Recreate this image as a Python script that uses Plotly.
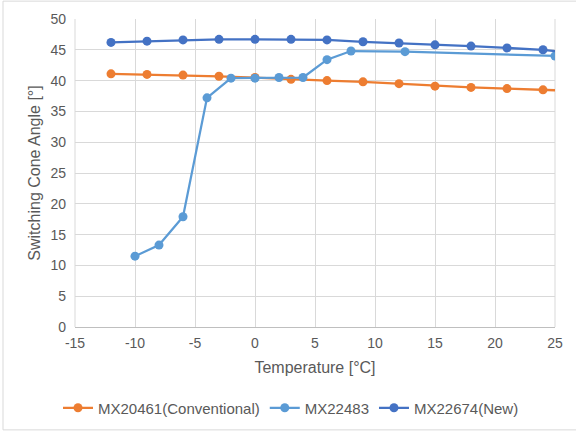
import plotly.graph_objects as go

# MX20461 (Conventional)
t_conv = [-12, -9, -6, -3, 0, 3, 6, 9, 12, 15, 18, 21, 24, 27]
a_conv = [41.1, 41.0, 40.9, 40.7, 40.5, 40.2, 40.0, 39.8, 39.5, 39.1, 38.9, 38.7, 38.5, 38.3]

# MX22483
t_483 = [-10, -8, -6, -4, -2, 0, 2, 4, 6, 8, 12.5, 25]
a_483 = [11.5, 13.3, 17.9, 37.2, 40.4, 40.4, 40.5, 40.5, 43.4, 44.8, 44.7, 44.0]

# MX22674 (New)
t_new = [-12, -9, -6, -3, 0, 3, 6, 9, 12, 15, 18, 21, 24, 27]
a_new = [46.2, 46.4, 46.6, 46.7, 46.7, 46.7, 46.6, 46.3, 46.1, 45.8, 45.6, 45.3, 45.0, 44.4]

x_ticks = [-15, -10, -5, 0, 5, 10, 15, 20, 25]
x_ticktext = ["-15", "-10", "-5", "0", "5", "10", "15", "20", "25"]

names = ["MX20461(Conventional)", "MX22483", "MX22674(New)"]
colors = ["#ED7D31", "#5B9BD5", "#4472C4"]

fig = go.Figure()
for x, y, n, c in zip([t_conv, t_483, t_new], [a_conv, a_483, a_new], names, colors):
    fig.add_trace(go.Scatter(x=x, y=y, name=n, mode="lines+markers",
                             line=dict(color=c, width=2.25),
                             marker=dict(color=c, size=9)))

font = "Liberation Sans, Arial, sans-serif"
fig.update_layout(
    width=576, height=432,
    margin=dict(l=75, r=21, t=19, b=105, autoexpand=False),
    paper_bgcolor="white", plot_bgcolor="white",
    font=dict(family=font, size=14, color="#595959"),
    showlegend=True,
    legend=dict(orientation="h", x=0.45, xanchor="center", y=-0.263, yanchor="middle",
                font=dict(size=15, color="#595959"), itemwidth=30, tracegroupgap=0),
    xaxis=dict(range=[-15, 25], tickvals=x_ticks, ticktext=x_ticktext, showgrid=True,
               gridcolor="#D9D9D9", gridwidth=1, zeroline=False, showline=True,
               linecolor="#BFBFBF", ticks="", ticklabelstandoff=3,
               tickfont=dict(size=14, color="#595959"),
               title=dict(text="Temperature [°C]", font=dict(size=16, color="#595959"), standoff=12)),
    yaxis=dict(range=[0, 50], dtick=5, showgrid=True, gridcolor="#D9D9D9", gridwidth=1,
               zeroline=False, showline=False, ticks="", ticklabelstandoff=8,
               tickfont=dict(size=14, color="#595959"),
               title=dict(text="Switching Cone Angle [°]", font=dict(size=16, color="#595959"), standoff=5)),
    shapes=[
        dict(type="rect", xref="paper", yref="paper", x0=-0.15, x1=1.06, y0=-0.334, y1=1.058,
             line=dict(color="#D9D9D9", width=1), layer="below"),
        dict(type="line", xref="paper", yref="paper", x0=0, x1=0, y0=0, y1=1,
             line=dict(color="#D9D9D9", width=1), layer="below"),
        dict(type="line", xref="paper", yref="paper", x0=1, x1=1, y0=0, y1=1,
             line=dict(color="#D9D9D9", width=1), layer="below"),
    ],
)
fig.write_html("out.html")
